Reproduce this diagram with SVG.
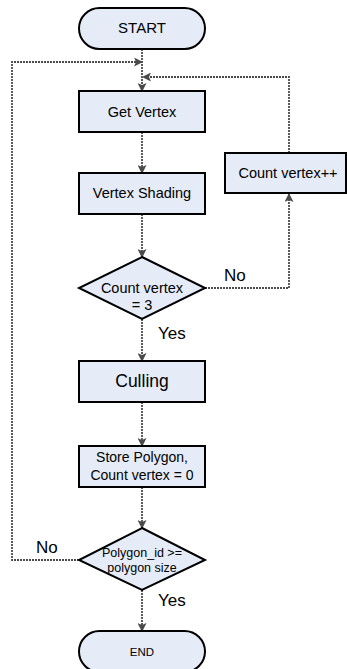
<svg xmlns="http://www.w3.org/2000/svg" width="347" height="669" viewBox="0 0 347 669">
<defs>
<style>
.n{fill:#e6ecf7;stroke:#000;stroke-width:2}
.t{font-family:"Liberation Sans",Arial,sans-serif;fill:#000;text-anchor:middle}
.c{fill:none;stroke:#4a4a4a;stroke-width:1.8;stroke-dasharray:2 1}
.l{font-family:"Liberation Sans",Arial,sans-serif;fill:#000;font-size:17px}
</style>
<marker id="a" markerWidth="9" markerHeight="9" refX="8" refY="4.5" orient="auto" markerUnits="userSpaceOnUse">
<path d="M0,0 L9,4.5 L0,9 L2,4.5 Z" fill="#4a4a4a"/>
</marker>
</defs>
<rect width="347" height="669" fill="#fff"/>
<g id="connectors">
<path class="c" d="M142,49 V91" marker-end="url(#a)"/>
<path class="c" d="M79,560 H12 V62 H142" marker-end="url(#a)"/>
<path class="c" d="M289,153 V77 H143" marker-end="url(#a)"/>
<path class="c" d="M142,132 V173" marker-end="url(#a)"/>
<path class="c" d="M142,214 V257" marker-end="url(#a)"/>
<path class="c" d="M205,288 H289 V194" marker-end="url(#a)"/>
<path class="c" d="M142,319 V361" marker-end="url(#a)"/>
<path class="c" d="M142,402 V446" marker-end="url(#a)"/>
<path class="c" d="M142,487 V528" marker-end="url(#a)"/>
<path class="c" d="M142,590 V631" marker-end="url(#a)"/>
<text class="l" x="224" y="281">No</text>
<text class="l" x="158" y="339">Yes</text>
<text class="l" x="36" y="553">No</text>
<text class="l" x="158" y="606">Yes</text>
</g>
<g id="start">
<rect class="n" x="79" y="8" width="126" height="41" rx="20.5"/>
<text class="t" x="142" y="33" font-size="15">START</text>
</g>
<g id="get-vertex">
<rect class="n" x="79" y="91" width="126" height="41"/>
<text class="t" x="142" y="117" font-size="14.5">Get Vertex</text>
</g>
<g id="vertex-shading">
<rect class="n" x="79" y="173" width="126" height="41"/>
<text class="t" x="142" y="198" font-size="14.5">Vertex Shading</text>
</g>
<g id="count-inc">
<rect class="n" x="225" y="153" width="121" height="40"/>
<text class="t" x="288" y="178" font-size="14.5">Count vertex++</text>
</g>
<g id="count-check">
<polygon class="n" points="142,257 205,288 142,319 79,288"/>
<text class="t" x="142" y="293" font-size="14.5">Count vertex</text>
<text class="t" x="142" y="310" font-size="14.5">= 3</text>
</g>
<g id="culling">
<rect class="n" x="79" y="361" width="126" height="41"/>
<text class="t" x="142" y="387" font-size="17.5">Culling</text>
</g>
<g id="store">
<rect class="n" x="79" y="446" width="126" height="41"/>
<text class="t" x="142" y="462" font-size="14">Store Polygon,</text>
<text class="t" x="142" y="480" font-size="14">Count vertex = 0</text>
</g>
<g id="poly-check">
<polygon class="n" points="142,528 205,560 142,590 79,560"/>
<text class="t" x="142" y="557" font-size="12.5">Polygon_id &gt;=</text>
<text class="t" x="142" y="572" font-size="12.5">polygon size</text>
</g>
<g id="end">
<rect class="n" x="79" y="631" width="126" height="41" rx="20.5"/>
<text class="t" x="142" y="656" font-size="11.5">END</text>
</g>
</svg>
